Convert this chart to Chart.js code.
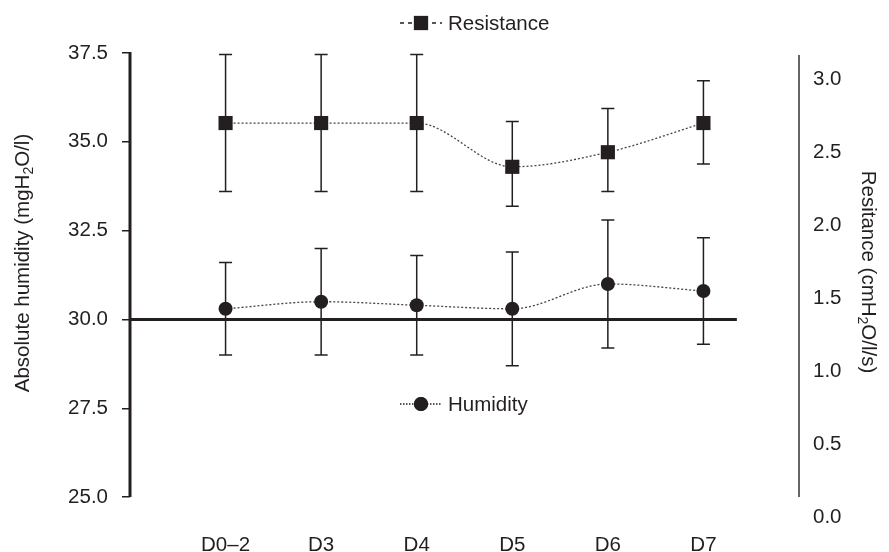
<!DOCTYPE html>
<html lang="en">
<head>
<meta charset="UTF-8">
<title>Absolute humidity and resistance</title>
<script src="https://cdn.jsdelivr.net/npm/chart.js@4.4.1/dist/chart.umd.min.js"></script>
<style>
  html, body { margin: 0; padding: 0; background: #fff; }
  #wrap { width: 889px; height: 552px; }
</style>
</head>
<body>
<div id="wrap"><canvas id="chart"></canvas></div>
<script>
// data
const days = ['D0–2', 'D3', 'D4', 'D5', 'D6', 'D7'];
const humidity = [30.3, 30.5, 30.4, 30.3, 31.0, 30.8];
const humidityLow = [29.0, 29.0, 29.0, 28.7, 29.2, 29.3];
const humidityHigh = [31.6, 32.0, 31.8, 31.9, 32.8, 32.3];
const resistance = [2.7, 2.7, 2.7, 2.4, 2.5, 2.7];
const resistanceLow = [2.23, 2.23, 2.23, 2.13, 2.23, 2.42];
const resistanceHigh = [3.17, 3.17, 3.17, 2.71, 2.8, 2.99];
const humidityTicks = [25, 27.5, 30, 32.5, 35, 37.5];
const resistanceTicks = [0, 0.5, 1, 1.5, 2, 2.5, 3];
const baseline = 30;      // the heavy horizontal rule
const baselineEnd = 5.35; // where it stops on the x scale

const ink = '#231f20';
const fontFamily = "'Liberation Sans', Arial, Helvetica, sans-serif";
const fontSize = 20.5;

function points(values) {
  return values.map((v, i) => ({ x: i, y: v }));
}

function drawErrorBars(chart, low, high, scaleId) {
  const ctx = chart.ctx;
  const xs = chart.scales.x;
  const ys = chart.scales[scaleId];
  ctx.save();
  ctx.strokeStyle = ink;
  ctx.lineWidth = 1.5;
  low.forEach((lo, i) => {
    const px = xs.getPixelForValue(i);
    const top = ys.getPixelForValue(high[i]);
    const bot = ys.getPixelForValue(lo);
    ctx.beginPath();
    ctx.moveTo(px, top); ctx.lineTo(px, bot);
    ctx.moveTo(px - 6.5, top); ctx.lineTo(px + 6.5, top);
    ctx.moveTo(px - 6.5, bot); ctx.lineTo(px + 6.5, bot);
    ctx.stroke();
  });
  ctx.restore();
}

// text with a subscript part, centred on (x, y), rotated
function drawSubText(ctx, before, sub, after, x, y, angle) {
  ctx.save();
  ctx.translate(x, y);
  ctx.rotate(angle);
  ctx.fillStyle = ink;
  ctx.textBaseline = 'middle';
  ctx.textAlign = 'left';
  const big = fontSize + 'px ' + fontFamily;
  const small = '14px ' + fontFamily;
  ctx.font = big;
  const w1 = ctx.measureText(before).width;
  const w3 = ctx.measureText(after).width;
  ctx.font = small;
  const w2 = ctx.measureText(sub).width;
  let cx = -(w1 + w2 + w3) / 2;
  ctx.font = big;
  ctx.fillText(before, cx, 0);
  cx += w1;
  ctx.font = small;
  ctx.fillText(sub, cx, 6);
  cx += w2;
  ctx.font = big;
  ctx.fillText(after, cx, 0);
  ctx.restore();
}

function drawLegendItem(ctx, ds, cx, cy, dash) {
  ctx.save();
  ctx.strokeStyle = ink;
  ctx.lineWidth = 1.3;
  ctx.setLineDash(dash);
  ctx.beginPath();
  ctx.moveTo(cx - 21, cy); ctx.lineTo(cx + 21, cy);
  ctx.stroke();
  ctx.setLineDash([]);
  Chart.helpers.drawPoint(ctx, {
    pointStyle: ds.pointStyle, radius: ds.pointRadius, rotation: 0, borderWidth: 0
  }, cx, cy);
  ctx.fillStyle = ink;
  ctx.fill();
  ctx.font = fontSize + 'px ' + fontFamily;
  ctx.textBaseline = 'middle';
  ctx.textAlign = 'left';
  ctx.fillText(ds.label, cx + 27, cy + 1);
  ctx.restore();
}

const decor = {
  id: 'decor',
  beforeDatasetsDraw(chart) {
    const ctx = chart.ctx;
    const xs = chart.scales.x, yL = chart.scales.yL;
    const area = chart.chartArea;
    ctx.save();
    // left axis line, only over the labelled range
    ctx.strokeStyle = ink;
    ctx.lineWidth = 3;
    ctx.beginPath();
    ctx.moveTo(area.left, yL.getPixelForValue(humidityTicks[0]));
    ctx.lineTo(area.left, yL.getPixelForValue(humidityTicks[humidityTicks.length - 1]) - 1);
    ctx.stroke();
    // right axis line
    ctx.strokeStyle = '#666';
    ctx.lineWidth = 2;
    ctx.beginPath();
    ctx.moveTo(area.right, area.top + 2);
    ctx.lineTo(area.right, yL.getPixelForValue(humidityTicks[0]));
    ctx.stroke();
    // 30.0 rule
    ctx.strokeStyle = ink;
    ctx.lineWidth = 3;
    ctx.beginPath();
    ctx.moveTo(area.left, yL.getPixelForValue(baseline));
    ctx.lineTo(xs.getPixelForValue(baselineEnd), yL.getPixelForValue(baseline));
    ctx.stroke();
    ctx.restore();
    drawErrorBars(chart, resistanceLow, resistanceHigh, 'yR');
    drawErrorBars(chart, humidityLow, humidityHigh, 'yL');
  },
  afterDraw(chart) {
    const ctx = chart.ctx;
    const sets = chart.data.datasets;
    drawLegendItem(ctx, sets[0], 421, 23, [4, 4]);
    drawLegendItem(ctx, sets[1], 421, 404, [1.5, 1.5]);
    drawSubText(ctx, 'Absolute humidity (mgH', '2', 'O/l)', 23, 263, -Math.PI / 2);
    drawSubText(ctx, 'Resitance (cmH', '2', 'O/l/s)', 868, 272, Math.PI / 2);
  }
};

new Chart(document.getElementById('chart'), {
  type: 'line',
  data: {
    datasets: [
      {
        label: 'Resistance',
        data: points(resistance),
        yAxisID: 'yR',
        borderColor: '#444',
        borderWidth: 1.3,
        borderDash: [2, 2],
        cubicInterpolationMode: 'monotone',
        pointStyle: 'rect',
        pointRadius: 10,
        pointBackgroundColor: ink,
        pointBorderWidth: 0
      },
      {
        label: 'Humidity',
        data: points(humidity),
        yAxisID: 'yL',
        borderColor: '#444',
        borderWidth: 1.3,
        borderDash: [2, 2],
        cubicInterpolationMode: 'monotone',
        pointStyle: 'circle',
        pointRadius: 7,
        pointBackgroundColor: ink,
        pointBorderWidth: 0
      }
    ]
  },
  options: {
    responsive: true,
    maintainAspectRatio: false,
    animation: false,
    layout: { padding: { top: 53 } },
    plugins: { legend: { display: false }, tooltip: { enabled: false } },
    scales: {
      x: {
        type: 'linear',
        min: -1,
        max: 6,
        grid: { display: false, drawTicks: false },
        border: { display: false },
        afterBuildTicks: s => { s.ticks = days.map((d, i) => ({ value: i })); },
        afterFit: s => { s.height = 35; },
        ticks: {
          autoSkip: false,
          maxRotation: 0,
          padding: 16,
          color: ink,
          font: { family: fontFamily, size: fontSize },
          callback: v => days[v] ?? ''
        }
      },
      yL: {
        position: 'left',
        min: 24.44,
        max: 37.5,
        grid: { drawOnChartArea: false, drawTicks: true, tickLength: 8, color: ink, lineWidth: 1.5 },
        border: { display: false },
        afterBuildTicks: s => { s.ticks = humidityTicks.map(v => ({ value: v })); },
        afterFit: s => { s.width = 130; },
        ticks: {
          padding: 14,
          color: ink,
          font: { family: fontFamily, size: fontSize },
          callback: v => v.toFixed(1)
        }
      },
      yR: {
        position: 'right',
        min: 0,
        max: 3.18,
        grid: { display: false, drawTicks: false },
        border: { display: false },
        afterBuildTicks: s => { s.ticks = resistanceTicks.map(v => ({ value: v })); },
        afterFit: s => { s.width = 90; },
        ticks: {
          padding: 14,
          color: ink,
          font: { family: fontFamily, size: fontSize },
          callback: v => v.toFixed(1)
        }
      }
    }
  },
  plugins: [decor]
});
</script>
</body>
</html>
